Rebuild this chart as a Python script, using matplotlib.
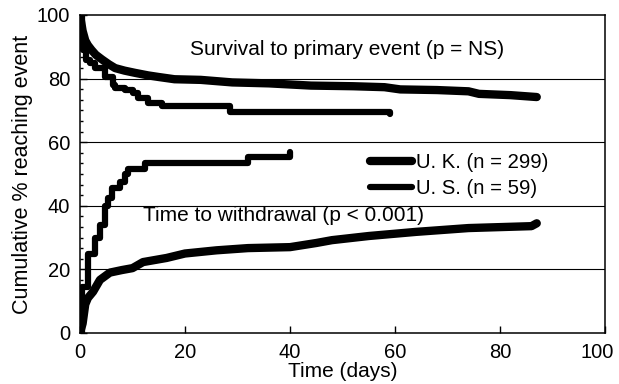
## Kaplan-Meier style plot: UK vs US, survival and withdrawal
import numpy as np
import matplotlib
matplotlib.use('Agg')
import matplotlib.pyplot as plt
import matplotlib.transforms as mtransforms
from matplotlib.ticker import MultipleLocator

## Data (time in days, value in %)
uk_surv_t = [0, 0.5, 1, 1.5, 2.2, 3, 4.2, 5.5, 6.7, 8.5, 10.5, 13, 15, 18, 23, 29, 36, 44, 52, 58, 61, 68, 74, 76, 82, 87]
uk_surv_v = [100, 95, 92, 90.5, 89, 87.5, 86, 84.5, 83.3, 82.5, 81.8, 81, 80.5, 79.8, 79.6, 78.8, 78.5, 77.8, 77.6, 77.3, 76.6, 76.4, 76, 75.2, 74.8, 74.2]

us_surv_t = [0, 0.3, 0.6, 1.2, 1.9, 2.9, 4.8, 6.3, 6.7, 8.6, 10, 11, 13, 15.6, 28.6, 59]
us_surv_v = [100, 93, 89, 86, 85, 83.3, 80.5, 78, 77, 76.4, 75.5, 74, 72.3, 71.5, 69.5, 69.0]

uk_wd_t = [0, 0.5, 1.0, 1.5, 2.5, 3.8, 5.7, 8, 10, 12, 16.5, 20, 26, 32, 40, 45, 48, 55, 64, 74, 86, 87]
uk_wd_v = [0, 3, 9, 11, 13, 16.7, 19, 19.8, 20.4, 22.3, 23.6, 25, 26, 26.7, 27, 28.3, 29.2, 30.5, 31.8, 33, 33.6, 34.5]

us_wd_t = [0, 0.3, 1.6, 2.9, 3.8, 4.8, 5.3, 6, 7.6, 8.6, 9.1, 12.4, 32, 40]
us_wd_v = [0, 14.5, 25, 30, 34, 40, 42.5, 45.6, 47.5, 50, 51.5, 53.5, 55.5, 57]

labels = ['U. K. (n = 299)', 'U. S. (n = 59)']

plt.rcParams['font.family'] = ['Liberation Sans', 'DejaVu Sans']

fig = plt.figure(figsize=(6.19, 3.84), dpi=100)
ax = fig.add_axes([80 / 619, 51 / 384, 525 / 619, 318 / 384])

## horizontal rules at 20/40/60/80
for yv in [20, 40, 60, 80]:
    ax.axhline(yv, color='black', lw=0.8, zorder=1)

# UK has many events -> drawn as a smooth-ish line, US as steps
uk_style = dict(color='black', lw=6.0, solid_capstyle='round', solid_joinstyle='round', zorder=3)
us_style = dict(color='black', lw=4.5, drawstyle='steps-post', solid_capstyle='round', zorder=3)

ax.plot(uk_surv_t, uk_surv_v, label=labels[0], **uk_style)
ax.plot(us_surv_t, us_surv_v, label=labels[1], **us_style)
ax.plot(uk_wd_t, uk_wd_v, **uk_style)
ax.plot(us_wd_t, us_wd_v, **us_style)

ax.text(50.8, 89, 'Survival to primary event (p = NS)', ha='center', va='center', fontsize=15)
ax.text(38.7, 37, 'Time to withdrawal (p < 0.001)', ha='center', va='center', fontsize=15)

ax.set_xlim(0, 100)
ax.set_ylim(0, 100)
ax.xaxis.set_major_locator(MultipleLocator(20))
ax.yaxis.set_major_locator(MultipleLocator(20))
ax.yaxis.set_minor_locator(MultipleLocator(20 / 6))
ax.tick_params(axis='both', which='major', direction='in', length=5, width=1, labelsize=14.5, pad=7)
ax.tick_params(axis='y', which='minor', direction='in', length=2.5, width=1)
for s in ax.spines.values():
    s.set_linewidth(1.1)

ax.set_xlabel('Time (days)', fontsize=15, labelpad=0)
ax.set_ylabel('Cumulative % reaching event', fontsize=15.5, labelpad=3)

leg = ax.legend(loc='upper left', bbox_to_anchor=(0.552, 0.566), frameon=False, fontsize=14.6,
                handlelength=2.1, handletextpad=0.2, labelspacing=0.35, borderpad=0, borderaxespad=0)

# nudge the "100" on the x axis a bit left so it stays inside the figure
fig.canvas.draw()
shift = mtransforms.ScaledTranslation(-8 / 100, 0, fig.dpi_scale_trans)
for lab in ax.get_xticklabels():
    if lab.get_text() == '100':
        lab.set_transform(lab.get_transform() + shift)

fig.savefig('out.png', dpi=100)
